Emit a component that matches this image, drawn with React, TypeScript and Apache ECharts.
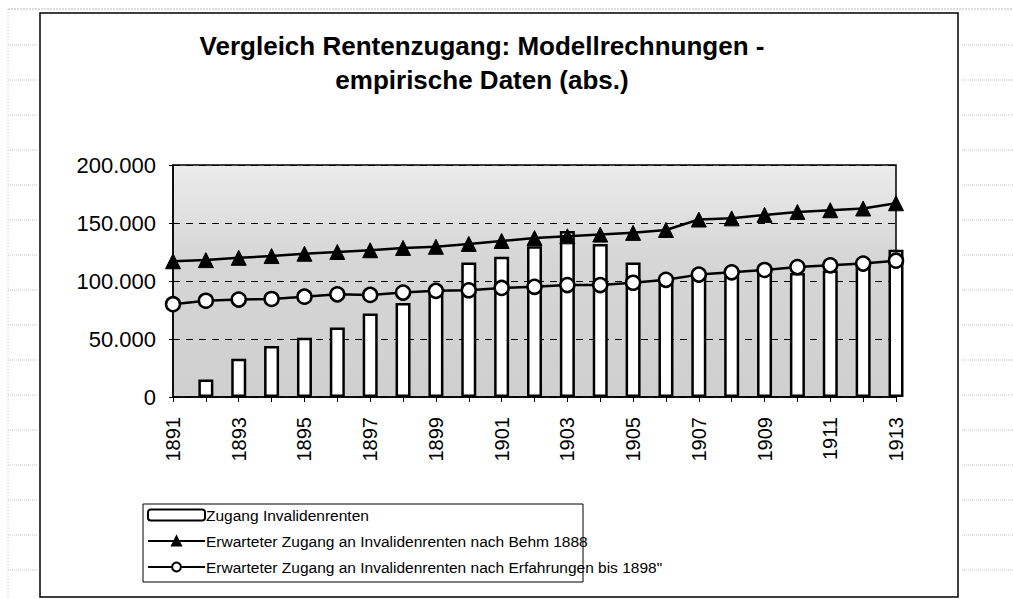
import React, { useEffect, useRef } from "react";
import * as echarts from "echarts";

const years = [
  "1891", "1892", "1893", "1894", "1895", "1896", "1897", "1898", "1899", "1900", "1901", "1902",
  "1903", "1904", "1905", "1906", "1907", "1908", "1909", "1910", "1911", "1912", "1913",
];
const zugang = [
  null, 15000, 33000, 44000, 51000, 60000, 72000, 81000, 89000, 116000, 121000, 130000,
  143000, 132000, 116000, 98000, 104000, 104000, 108000, 107000, 109000, 112000, 127000,
];
const behm = [
  117000, 118000, 120000, 121500, 123500, 125000, 126500, 128500, 129500, 132000, 134500, 137000,
  138500, 140000, 141500, 144000, 153000, 154000, 157000, 159500, 161000, 162500, 167000,
];
const erfahrung = [
  80000, 83000, 84000, 84500, 86500, 88500, 88000, 90000, 91500, 92000, 94000, 95000,
  96500, 96500, 98500, 101000, 105500, 107500, 109500, 112000, 113500, 115000, 117500,
];
const seriesNames = [
  "Zugang Invalidenrenten",
  "Erwarteter Zugang an Invalidenrenten nach Behm 1888",
  "Erwarteter Zugang an Invalidenrenten nach Erfahrungen bis 1898\"",
];
const titleText = "Vergleich Rentenzugang: Modellrechnungen -\nempirische Daten (abs.)";

const FONT = "'Liberation Sans', Arial, sans-serif";

function fmt(v: number) {
  return String(v).replace(/\B(?=(\d{3})+(?!\d))/g, ".");
}

export default function App() {
  const ref = useRef<HTMLDivElement>(null);
  useEffect(() => {
    if (!ref.current) return;
    const chart = echarts.init(ref.current, null, { renderer: "svg" });
    const sheetLines: any[] = [];
    for (let y = 45; y < 599; y += 35) {
      sheetLines.push({
        type: "line",
        shape: { x1: 8, y1: y, x2: 38, y2: y },
        style: { stroke: "#c4c4c4", lineWidth: 1, lineDash: [1, 1] },
        silent: true,
      });
      sheetLines.push({
        type: "line",
        shape: { x1: 962, y1: y, x2: 1013, y2: y },
        style: { stroke: "#c4c4c4", lineWidth: 1, lineDash: [1, 1] },
        silent: true,
      });
    }
    sheetLines.push({
      type: "line",
      shape: { x1: 8, y1: 9, x2: 1013, y2: 9 },
      style: { stroke: "#b8b8b8", lineWidth: 1, lineDash: [2, 1] },
      silent: true,
    });
    sheetLines.push({
      type: "line",
      shape: { x1: 8, y1: 9, x2: 8, y2: 599 },
      style: { stroke: "#c8c8c8", lineWidth: 1, lineDash: [1, 2] },
      silent: true,
    });
    chart.setOption({
      animation: false,
      backgroundColor: "#ffffff",
      title: {
        text: titleText,
        left: 477,
        top: 24,
        textAlign: "center",
        textStyle: {
          fontFamily: FONT,
          fontWeight: "bold",
          fontSize: 26,
          lineHeight: 34,
          color: "#000",
        },
      },
      graphic: [
        ...sheetLines,
        {
          type: "rect",
          shape: { x: 40, y: 13, width: 918, height: 584 },
          style: { fill: "none", stroke: "#000", lineWidth: 1.5 },
          silent: true,
          z: 0,
        },
        {
          type: "rect",
          shape: { x: 143, y: 504, width: 440, height: 78 },
          style: { fill: "none", stroke: "#000", lineWidth: 1 },
          silent: true,
        },
      ],
      legend: {
        orient: "vertical",
        left: 147,
        top: 507,
        itemWidth: 57,
        itemHeight: 11,
        itemGap: 10,
        data: seriesNames,
        textStyle: { fontFamily: FONT, fontSize: 15.5, color: "#000", padding: [0, 0, 0, -4] },
        padding: 0,
      },
      grid: {
        left: 173,
        right: 117,
        top: 165,
        bottom: 202,
        show: true,
        backgroundColor: {
          type: "linear",
          x: 0,
          y: 0,
          x2: 0,
          y2: 1,
          colorStops: [
            { offset: 0, color: "#ececec" },
            { offset: 0.4, color: "#d6d6d6" },
            { offset: 1, color: "#cfcfcf" },
          ],
        },
        borderColor: "#000",
        borderWidth: 1.5,
      },
      xAxis: {
        type: "category",
        data: years,
        boundaryGap: false,
        axisLine: { lineStyle: { color: "#000", width: 1.5 } },
        axisTick: { show: true, length: 5, interval: 0, lineStyle: { color: "#000" } },
        axisLabel: {
          interval: 1,
          rotate: 90,
          margin: 20,
          fontFamily: FONT,
          fontSize: 20,
          color: "#000",
        },
        splitLine: { show: false },
      },
      yAxis: {
        type: "value",
        min: 0,
        max: 200000,
        interval: 50000,
        axisLine: { show: true, lineStyle: { color: "#000", width: 1.5 } },
        axisTick: { show: true, length: 4, lineStyle: { color: "#000" } },
        axisLabel: {
          margin: 17,
          fontFamily: FONT,
          fontSize: 22,
          color: "#000",
          formatter: (v: number) => fmt(v),
        },
        splitLine: { show: true, lineStyle: { color: "#000", type: [7, 6], width: 1 } },
      },
      series: [
        {
          name: seriesNames[0],
          type: "bar",
          data: zugang,
          barWidth: 15,
          clip: true,
          itemStyle: { color: "#ffffff", borderColor: "#000", borderWidth: 2.5 },
          z: 2,
        },
        {
          name: seriesNames[1],
          type: "line",
          data: behm,
          symbol: "triangle",
          symbolSize: 15,
          lineStyle: { color: "#000", width: 2.5 },
          itemStyle: { color: "#000", borderColor: "#000", borderWidth: 1 },
          z: 3,
        },
        {
          name: seriesNames[2],
          type: "line",
          data: erfahrung,
          symbol: "circle",
          symbolSize: 14,
          lineStyle: { color: "#000", width: 2.5 },
          itemStyle: { color: "#ffffff", borderColor: "#000", borderWidth: 2.5 },
          z: 3,
        },
      ],
    });
    return () => chart.dispose();
  }, []);
  return (
    <div
      ref={ref}
      style={{ position: "fixed", left: 0, top: 0, width: 1013, height: 599 }}
    />
  );
}
